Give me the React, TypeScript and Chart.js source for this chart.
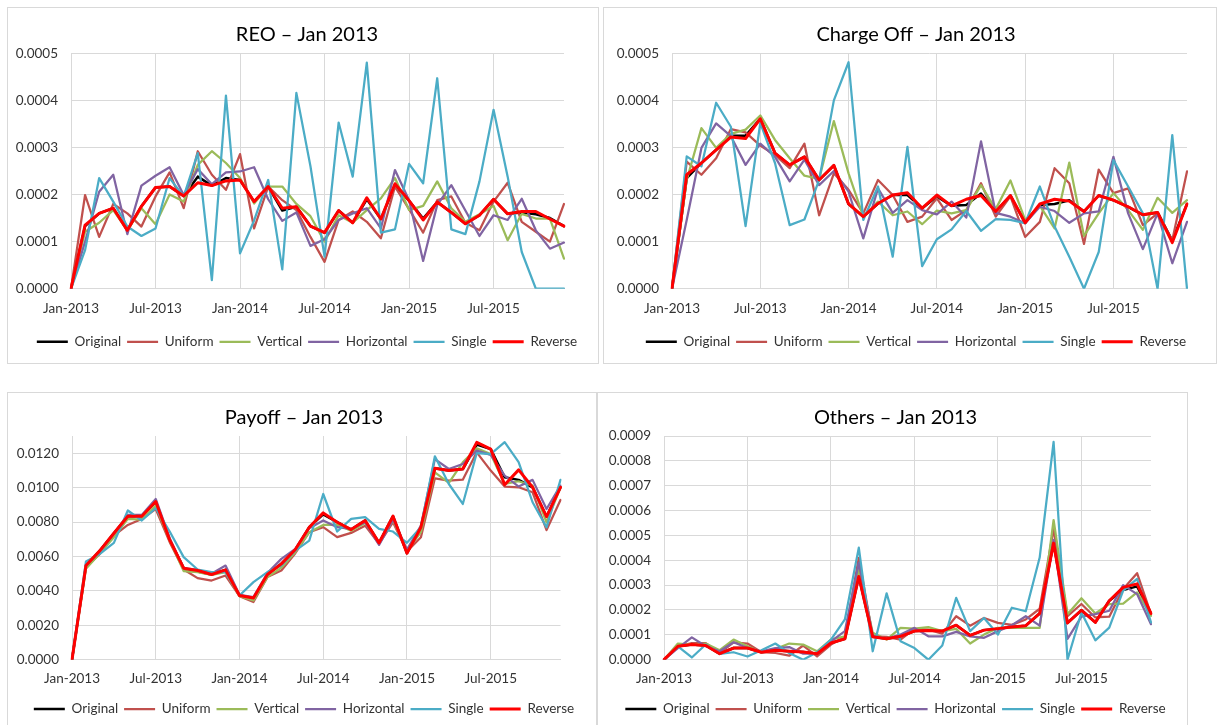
import React, { useEffect, useRef } from "react";
import { Chart, registerables } from "chart.js";

Chart.register(...registerables);

const MONTHS = [
  "Jan-2013", "Feb-2013", "Mar-2013", "Apr-2013", "May-2013", "Jun-2013",
  "Jul-2013", "Aug-2013", "Sep-2013", "Oct-2013", "Nov-2013", "Dec-2013",
  "Jan-2014", "Feb-2014", "Mar-2014", "Apr-2014", "May-2014", "Jun-2014",
  "Jul-2014", "Aug-2014", "Sep-2014", "Oct-2014", "Nov-2014", "Dec-2014",
  "Jan-2015", "Feb-2015", "Mar-2015", "Apr-2015", "May-2015", "Jun-2015",
  "Jul-2015", "Aug-2015", "Sep-2015", "Oct-2015", "Nov-2015", "Dec-2015",
];

const SERIES = ["Original", "Uniform", "Vertical", "Horizontal", "Single", "Reverse"];
const COLORS = ["#000000", "#C0504D", "#9BBB59", "#8064A2", "#4BACC6", "#FF0000"];
const WIDTHS = [2.5, 2.25, 2.25, 2.25, 2.25, 3];

const TICKS_SMALL = [0, 0.0001, 0.0002, 0.0003, 0.0004, 0.0005];
const TICKS_PAYOFF = [0, 0.002, 0.004, 0.006, 0.008, 0.01, 0.012];
const TICKS_OTHERS = [0, 0.0001, 0.0002, 0.0003, 0.0004, 0.0005, 0.0006, 0.0007, 0.0008, 0.0009];

// ---------- REO ----------
const reoOriginal = [0, 1.33e-4, 1.6e-4, 1.71e-4, 1.24e-4, 1.75e-4, 2.15e-4, 2.17e-4, 1.97e-4, 2.38e-4, 2.19e-4, 2.35e-4, 2.31e-4, 1.85e-4, 2.17e-4, 1.66e-4, 1.74e-4, 1.33e-4, 1.19e-4, 1.66e-4, 1.4e-4, 1.9e-4, 1.48e-4, 2.2e-4, 1.87e-4, 1.49e-4, 1.84e-4, 1.62e-4, 1.38e-4, 1.56e-4, 1.9e-4, 1.59e-4, 1.62e-4, 1.58e-4, 1.5e-4, 1.33e-4];
const reoUniform = [0, 1.99e-4, 1.1e-4, 1.8e-4, 1.6e-4, 1.32e-4, 1.96e-4, 2.47e-4, 1.71e-4, 2.92e-4, 2.42e-4, 2.1e-4, 2.86e-4, 1.28e-4, 2.17e-4, 1.88e-4, 1.67e-4, 1.1e-4, 0.57e-4, 1.46e-4, 1.64e-4, 1.42e-4, 1.07e-4, 2.17e-4, 1.69e-4, 1.19e-4, 1.88e-4, 1.96e-4, 1.4e-4, 1.24e-4, 1.85e-4, 2.25e-4, 1.42e-4, 1.21e-4, 1.0e-4, 1.8e-4];
const reoVertical = [0, 1.21e-4, 1.4e-4, 1.67e-4, 1.24e-4, 1.71e-4, 1.37e-4, 2.0e-4, 1.85e-4, 2.63e-4, 2.92e-4, 2.67e-4, 2.35e-4, 1.81e-4, 2.17e-4, 2.17e-4, 1.8e-4, 1.54e-4, 1.0e-4, 1.56e-4, 1.4e-4, 1.67e-4, 1.92e-4, 2.35e-4, 1.67e-4, 1.76e-4, 2.28e-4, 1.71e-4, 1.42e-4, 1.58e-4, 1.76e-4, 1.03e-4, 1.59e-4, 1.49e-4, 1.49e-4, 0.64e-4];
const reoHorizontal = [0, 1.0e-4, 2.06e-4, 2.42e-4, 1.16e-4, 2.19e-4, 2.4e-4, 2.58e-4, 1.99e-4, 2.54e-4, 2.22e-4, 2.47e-4, 2.49e-4, 2.58e-4, 1.9e-4, 1.44e-4, 1.62e-4, 0.91e-4, 1.05e-4, 1.46e-4, 1.6e-4, 1.71e-4, 1.28e-4, 2.52e-4, 1.88e-4, 0.59e-4, 1.78e-4, 2.2e-4, 1.66e-4, 1.12e-4, 1.56e-4, 1.46e-4, 1.91e-4, 1.24e-4, 0.85e-4, 0.98e-4];
const reoSingle = [0, 0.82e-4, 2.35e-4, 1.85e-4, 1.32e-4, 1.12e-4, 1.28e-4, 2.35e-4, 1.96e-4, 2.88e-4, 0.18e-4, 4.1e-4, 0.75e-4, 1.45e-4, 2.31e-4, 0.41e-4, 4.16e-4, 2.6e-4, 0.68e-4, 3.53e-4, 2.38e-4, 4.8e-4, 1.19e-4, 1.26e-4, 2.65e-4, 2.24e-4, 4.47e-4, 1.26e-4, 1.16e-4, 2.28e-4, 3.8e-4, 2.38e-4, 0.78e-4, 0, 0, 0];
const reoReverse = [0, 1.35e-4, 1.6e-4, 1.71e-4, 1.24e-4, 1.75e-4, 2.15e-4, 2.17e-4, 1.97e-4, 2.25e-4, 2.19e-4, 2.29e-4, 2.31e-4, 1.85e-4, 2.17e-4, 1.71e-4, 1.74e-4, 1.33e-4, 1.19e-4, 1.66e-4, 1.4e-4, 1.93e-4, 1.48e-4, 2.23e-4, 1.87e-4, 1.46e-4, 1.84e-4, 1.62e-4, 1.38e-4, 1.56e-4, 1.9e-4, 1.59e-4, 1.64e-4, 1.64e-4, 1.48e-4, 1.33e-4];

// ---------- Charge Off ----------
const coOriginal = [0, 2.35e-4, 2.67e-4, 2.95e-4, 3.25e-4, 3.25e-4, 3.61e-4, 2.88e-4, 2.63e-4, 2.8e-4, 2.31e-4, 2.62e-4, 1.8e-4, 1.53e-4, 1.81e-4, 1.99e-4, 1.99e-4, 1.71e-4, 1.96e-4, 1.76e-4, 1.78e-4, 2.02e-4, 1.64e-4, 1.98e-4, 1.4e-4, 1.78e-4, 1.8e-4, 1.88e-4, 1.64e-4, 1.98e-4, 1.88e-4, 1.74e-4, 1.57e-4, 1.62e-4, 1.02e-4, 1.8e-4];
const coUniform = [0, 2.7e-4, 2.42e-4, 2.77e-4, 3.39e-4, 3.32e-4, 3.04e-4, 2.84e-4, 2.56e-4, 3.08e-4, 1.56e-4, 2.45e-4, 2.1e-4, 1.6e-4, 2.31e-4, 1.99e-4, 1.42e-4, 1.53e-4, 1.92e-4, 1.46e-4, 1.67e-4, 2.24e-4, 1.53e-4, 1.96e-4, 1.1e-4, 1.42e-4, 2.56e-4, 2.24e-4, 0.95e-4, 2.53e-4, 2.03e-4, 2.13e-4, 1.35e-4, 1.6e-4, 1.03e-4, 2.49e-4];
const coVertical = [0, 2.31e-4, 3.41e-4, 2.99e-4, 3.29e-4, 3.38e-4, 3.68e-4, 3.16e-4, 2.77e-4, 2.4e-4, 2.33e-4, 3.56e-4, 2.45e-4, 1.53e-4, 1.85e-4, 1.56e-4, 1.64e-4, 1.37e-4, 1.66e-4, 1.6e-4, 1.67e-4, 2.2e-4, 1.69e-4, 2.3e-4, 1.46e-4, 1.76e-4, 1.28e-4, 2.68e-4, 1.12e-4, 1.6e-4, 2.03e-4, 1.67e-4, 1.25e-4, 1.93e-4, 1.61e-4, 1.88e-4];
const coHorizontal = [0, 1.46e-4, 2.99e-4, 3.51e-4, 3.24e-4, 2.63e-4, 3.08e-4, 2.8e-4, 2.28e-4, 2.74e-4, 2.2e-4, 2.5e-4, 2.06e-4, 1.07e-4, 2.13e-4, 1.61e-4, 1.88e-4, 1.67e-4, 1.58e-4, 1.85e-4, 1.51e-4, 3.13e-4, 1.61e-4, 1.53e-4, 1.39e-4, 1.74e-4, 1.65e-4, 1.4e-4, 1.6e-4, 1.64e-4, 2.8e-4, 1.6e-4, 0.84e-4, 1.6e-4, 0.54e-4, 1.42e-4];
const coSingle = [0, 2.81e-4, 2.6e-4, 3.95e-4, 3.44e-4, 1.33e-4, 3.52e-4, 2.67e-4, 1.35e-4, 1.47e-4, 2.31e-4, 4.0e-4, 4.81e-4, 1.46e-4, 2.17e-4, 0.68e-4, 3.01e-4, 0.48e-4, 1.05e-4, 1.26e-4, 1.65e-4, 1.23e-4, 1.48e-4, 1.46e-4, 1.39e-4, 2.17e-4, 1.32e-4, 0.68e-4, 0, 0.78e-4, 2.73e-4, 2.17e-4, 1.6e-4, 0, 3.26e-4, 0];
const coReverse = [0, 2.42e-4, 2.67e-4, 2.95e-4, 3.22e-4, 3.19e-4, 3.61e-4, 2.88e-4, 2.63e-4, 2.8e-4, 2.31e-4, 2.62e-4, 1.8e-4, 1.53e-4, 1.81e-4, 1.99e-4, 2.04e-4, 1.71e-4, 1.99e-4, 1.76e-4, 1.9e-4, 1.98e-4, 1.64e-4, 1.98e-4, 1.4e-4, 1.8e-4, 1.9e-4, 1.86e-4, 1.64e-4, 1.98e-4, 1.88e-4, 1.74e-4, 1.57e-4, 1.62e-4, 0.98e-4, 1.8e-4];

// ---------- Payoff ----------
const payOriginal = [0, 0.00547, 0.00634, 0.00735, 0.00834, 0.00834, 0.00919, 0.00696, 0.00532, 0.00512, 0.00495, 0.00522, 0.00373, 0.00358, 0.00495, 0.00557, 0.0064, 0.0077, 0.00845, 0.00799, 0.00756, 0.00809, 0.00679, 0.00834, 0.00619, 0.0077, 0.01112, 0.01099, 0.01108, 0.0125, 0.01224, 0.0106, 0.01045, 0.01002, 0.00831, 0.01002];
const payUniform = [0, 0.00538, 0.00615, 0.00721, 0.00783, 0.00818, 0.00876, 0.00683, 0.00524, 0.00474, 0.0046, 0.00489, 0.00369, 0.00335, 0.0048, 0.00518, 0.00619, 0.00741, 0.0077, 0.00712, 0.00737, 0.00779, 0.00673, 0.00799, 0.00629, 0.00712, 0.01054, 0.01041, 0.01046, 0.01205, 0.01099, 0.01006, 0.01002, 0.00973, 0.00753, 0.00928];
const payVertical = [0, 0.00528, 0.00619, 0.00712, 0.00818, 0.00814, 0.00896, 0.00692, 0.00515, 0.00509, 0.00493, 0.00509, 0.00369, 0.00344, 0.0048, 0.00535, 0.00625, 0.00741, 0.00783, 0.00785, 0.0075, 0.00795, 0.00683, 0.00809, 0.00634, 0.00741, 0.01089, 0.01027, 0.01147, 0.01228, 0.01195, 0.01021, 0.01037, 0.01012, 0.00798, 0.01002];
const payHorizontal = [0, 0.00547, 0.00629, 0.00731, 0.00841, 0.00841, 0.00934, 0.00706, 0.00532, 0.00522, 0.00499, 0.00547, 0.00377, 0.00364, 0.00503, 0.00586, 0.00644, 0.00764, 0.00809, 0.0077, 0.0076, 0.00799, 0.00667, 0.00814, 0.0064, 0.00779, 0.01166, 0.01108, 0.01137, 0.01215, 0.0119, 0.0107, 0.01006, 0.01045, 0.00876, 0.01012];
const paySingle = [0, 0.00571, 0.00615, 0.00679, 0.00867, 0.00809, 0.0088, 0.00745, 0.00596, 0.00524, 0.00509, 0.00509, 0.00373, 0.00451, 0.00509, 0.00547, 0.00634, 0.00692, 0.00963, 0.00745, 0.00818, 0.00828, 0.0076, 0.00745, 0.00679, 0.0077, 0.01182, 0.01021, 0.00905, 0.01201, 0.01195, 0.01264, 0.01148, 0.00915, 0.00769, 0.01045];
const payReverse = [0, 0.00547, 0.00634, 0.00735, 0.00834, 0.00834, 0.00919, 0.00696, 0.00532, 0.00518, 0.00495, 0.00522, 0.00373, 0.00358, 0.00495, 0.00557, 0.0064, 0.0077, 0.00853, 0.00799, 0.00756, 0.00809, 0.00679, 0.00834, 0.00619, 0.0077, 0.01112, 0.01099, 0.01108, 0.01263, 0.01224, 0.01017, 0.01103, 0.01002, 0.00831, 0.01002];

// ---------- Others ----------
const othOriginal = [0, 0.54e-4, 0.61e-4, 0.57e-4, 0.24e-4, 0.47e-4, 0.47e-4, 0.3e-4, 0.38e-4, 0.34e-4, 0.31e-4, 0.24e-4, 0.67e-4, 0.84e-4, 3.35e-4, 0.92e-4, 0.84e-4, 0.94e-4, 1.15e-4, 1.17e-4, 1.15e-4, 1.39e-4, 0.98e-4, 1.19e-4, 1.25e-4, 1.32e-4, 1.37e-4, 1.86e-4, 4.69e-4, 1.48e-4, 1.99e-4, 1.5e-4, 2.37e-4, 2.8e-4, 2.95e-4, 1.86e-4];
const othUniform = [0, 0.54e-4, 0.67e-4, 0.67e-4, 0.27e-4, 0.7e-4, 0.65e-4, 0.3e-4, 0.27e-4, 0.16e-4, 0.57e-4, 0.13e-4, 0.61e-4, 0.92e-4, 4.1e-4, 0.94e-4, 0.92e-4, 0.81e-4, 1.24e-4, 1.21e-4, 1.05e-4, 1.75e-4, 1.37e-4, 1.68e-4, 1.48e-4, 1.4e-4, 1.62e-4, 2.05e-4, 5.26e-4, 1.75e-4, 2.24e-4, 1.7e-4, 1.73e-4, 2.84e-4, 3.48e-4, 1.83e-4];
const othVertical = [0, 0.65e-4, 0.61e-4, 0.65e-4, 0.38e-4, 0.81e-4, 0.54e-4, 0.3e-4, 0.43e-4, 0.65e-4, 0.61e-4, 0.34e-4, 0.81e-4, 0.94e-4, 3.64e-4, 1.08e-4, 0.81e-4, 1.28e-4, 1.25e-4, 1.31e-4, 1.15e-4, 1.24e-4, 0.65e-4, 1.01e-4, 1.28e-4, 1.28e-4, 1.28e-4, 1.28e-4, 5.62e-4, 1.83e-4, 2.47e-4, 1.86e-4, 2.24e-4, 2.26e-4, 2.71e-4, 1.77e-4];
const othHorizontal = [0, 0.47e-4, 0.9e-4, 0.54e-4, 0.34e-4, 0.7e-4, 0.47e-4, 0.34e-4, 0.47e-4, 0.51e-4, 0.24e-4, 0.24e-4, 0.74e-4, 1.15e-4, 3.9e-4, 0.97e-4, 0.85e-4, 1.01e-4, 1.28e-4, 0.94e-4, 0.94e-4, 1.12e-4, 0.94e-4, 0.88e-4, 1.15e-4, 1.39e-4, 1.75e-4, 1.37e-4, 4.82e-4, 0.84e-4, 1.73e-4, 1.83e-4, 1.97e-4, 3.0e-4, 2.64e-4, 1.43e-4];
const othSingle = [0, 0.54e-4, 0.09e-4, 0.61e-4, 0.23e-4, 0.3e-4, 0.13e-4, 0.38e-4, 0.65e-4, 0.27e-4, 0, 0.3e-4, 0.81e-4, 1.62e-4, 4.51e-4, 0.34e-4, 2.67e-4, 0.74e-4, 0.47e-4, 0, 0.57e-4, 2.49e-4, 1.15e-4, 1.68e-4, 1.01e-4, 2.09e-4, 1.95e-4, 4.11e-4, 8.76e-4, 0, 1.9e-4, 0.78e-4, 1.29e-4, 2.78e-4, 3.25e-4, 1.5e-4];
const othReverse = [0, 0.54e-4, 0.61e-4, 0.57e-4, 0.24e-4, 0.47e-4, 0.47e-4, 0.3e-4, 0.38e-4, 0.34e-4, 0.31e-4, 0.24e-4, 0.67e-4, 0.84e-4, 3.35e-4, 0.92e-4, 0.84e-4, 0.94e-4, 1.15e-4, 1.17e-4, 1.15e-4, 1.39e-4, 0.98e-4, 1.19e-4, 1.25e-4, 1.32e-4, 1.37e-4, 1.86e-4, 4.69e-4, 1.48e-4, 1.99e-4, 1.5e-4, 2.37e-4, 2.91e-4, 3.05e-4, 1.86e-4];

const FONT = "Lato, 'Open Sans', 'DejaVu Sans', sans-serif";
const GRID = "#D9D9D9";
const TEXT = "#333333";
const FS = 13.5;

type PanelCfg = {
  title: string;
  series: number[][];
  ticks: number[];
  max: number;
  box: { left: number; top: number; width: number; height: number };
  padLeft: number;
  padBottom: number;
  titleTop: number;
  titleBottom: number;
  yW: number;
  rW: number;
  xH: number;
  xPad: number;
};

const PANELS: PanelCfg[] = [
  {
    title: "REO \u2013 Jan 2013",
    series: [reoOriginal, reoUniform, reoVertical, reoHorizontal, reoSingle, reoReverse],
    ticks: TICKS_SMALL, max: 0.0005,
    box: { left: 7, top: 7, width: 592, height: 357 },
    padLeft: 8, padBottom: 4.5, titleTop: 15, titleBottom: 6.3, yW: 55, rW: 34, xH: 40.3, xPad: 11.5,
  },
  {
    title: "Charge Off \u2013 Jan 2013",
    series: [coOriginal, coUniform, coVertical, coHorizontal, coSingle, coReverse],
    ticks: TICKS_SMALL, max: 0.0005,
    box: { left: 603, top: 7, width: 614, height: 357 },
    padLeft: 12, padBottom: 4.5, titleTop: 15, titleBottom: 6.3, yW: 56, rW: 29, xH: 40.3, xPad: 11.5,
  },
  {
    title: "Payoff \u2013 Jan 2013",
    series: [payOriginal, payUniform, payVertical, payHorizontal, paySingle, payReverse],
    ticks: TICKS_PAYOFF, max: 0.013,
    box: { left: 7, top: 392, width: 590, height: 336 },
    padLeft: 4, padBottom: 1.2, titleTop: 13, titleBottom: 6, yW: 60, rW: 35.5, xH: 36.6, xPad: 10.5,
  },
  {
    title: "Others \u2013 Jan 2013",
    series: [othOriginal, othUniform, othVertical, othHorizontal, othSingle, othReverse],
    ticks: TICKS_OTHERS, max: 0.0009,
    box: { left: 597, top: 392, width: 591, height: 336 },
    padLeft: 6, padBottom: 1.2, titleTop: 13, titleBottom: 6, yW: 60, rW: 36, xH: 36.6, xPad: 10.5,
  },
];

function Panel({ cfg }: { cfg: PanelCfg }) {
  const ref = useRef<HTMLCanvasElement | null>(null);
  const cw = cfg.box.width - 2;
  const ch = cfg.box.height - 2;

  useEffect(() => {
    if (!ref.current) return;
    const chart = new Chart(ref.current, {
      type: "line",
      data: {
        labels: MONTHS,
        datasets: cfg.series.map((d, i) => ({
          label: SERIES[i],
          data: d,
          borderColor: COLORS[i],
          backgroundColor: COLORS[i],
          borderWidth: WIDTHS[i],
          pointRadius: 0,
          pointHoverRadius: 0,
          tension: 0,
          fill: false,
          order: SERIES.length - 1 - i,
          borderJoinStyle: "round",
          borderCapStyle: "round",
        })),
      },
      options: {
        responsive: false,
        maintainAspectRatio: false,
        animation: false,
        events: [],
        layout: { padding: { left: cfg.padLeft, right: 0, top: 0, bottom: cfg.padBottom } },
        plugins: {
          title: {
            display: true,
            text: cfg.title,
            color: "#000000",
            font: { family: FONT, size: 20, weight: "normal" },
            padding: { top: cfg.titleTop, bottom: cfg.titleBottom },
          },
          legend: {
            display: true,
            position: "bottom",
            labels: {
              usePointStyle: true,
              pointStyle: "line",
              pointStyleWidth: 31,
              padding: 6,
              color: TEXT,
              font: { family: FONT, size: FS },
              sort: (a: any, b: any) => a.datasetIndex - b.datasetIndex,
            },
          },
          tooltip: { enabled: false },
        },
        scales: {
          x: {
            type: "category",
            offset: false,
            grid: { color: GRID, lineWidth: 1, drawTicks: false },
            border: { color: GRID },
            ticks: {
              autoSkip: false,
              maxRotation: 0,
              minRotation: 0,
              padding: cfg.xPad,
              color: TEXT,
              font: { family: FONT, size: FS },
            },
            afterBuildTicks: (ax: any) => {
              ax.ticks = ax.ticks.filter((t: any) => t.value % 6 === 0);
            },
            afterFit: (ax: any) => {
              ax.height = cfg.xH;
            },
          },
          y: {
            type: "linear",
            position: "left",
            min: 0,
            max: cfg.max,
            grid: { color: GRID, lineWidth: 1, drawTicks: false },
            border: { display: false },
            ticks: {
              padding: 13,
              color: TEXT,
              font: { family: FONT, size: FS },
              callback: (v: any) => Number(v).toFixed(4),
            },
            afterBuildTicks: (ax: any) => {
              ax.ticks = cfg.ticks.map((v) => ({ value: v }));
            },
            afterFit: (ax: any) => {
              ax.width = cfg.yW;
            },
          },
          yRight: {
            type: "linear",
            position: "right",
            display: true,
            grid: { display: false, drawTicks: false },
            border: { display: false },
            ticks: { display: false },
            afterFit: (ax: any) => {
              ax.width = cfg.rW;
            },
          },
        },
      } as any,
    });
    return () => chart.destroy();
  }, []);

  return (
    <div
      style={{
        position: "absolute",
        left: cfg.box.left,
        top: cfg.box.top,
        width: cfg.box.width,
        height: cfg.box.height,
        border: `1px solid ${GRID}`,
        boxSizing: "border-box",
        background: "#ffffff",
      }}
    >
      <canvas ref={ref} width={cw} height={ch} style={{ display: "block", width: cw, height: ch }} />
    </div>
  );
}

export default function App() {
  return (
    <div
      style={{
        position: "absolute",
        left: 0,
        top: 0,
        width: 1220,
        height: 725,
        overflow: "hidden",
        background: "#ffffff",
      }}
    >
      {PANELS.map((p, i) => (
        <Panel key={i} cfg={p} />
      ))}
    </div>
  );
}
